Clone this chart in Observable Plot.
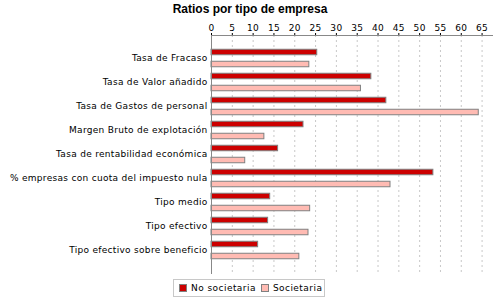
<!DOCTYPE html>
<html><head><meta charset="utf-8">
<script src="https://cdn.jsdelivr.net/npm/d3@7"></script>
<script src="https://cdn.jsdelivr.net/npm/@observablehq/plot@0.6"></script>
<style>
body{margin:0;background:#fff;width:500px;height:300px;position:relative;overflow:hidden;font-family:"DejaVu Sans",sans-serif}
#title{position:absolute;top:1px;left:0;width:500px;text-align:center;font:bold 12px "Liberation Sans",Arial,sans-serif;line-height:16px;color:#000}
#chart{position:absolute;top:0;left:0}
#legend{position:absolute;left:173px;top:279px;width:152px;height:18px;border:1px solid #c8c8c8;box-sizing:border-box;display:flex;align-items:center;font-size:9px;letter-spacing:0.45px;color:#000;white-space:nowrap}
.sw{display:inline-block;flex:none;width:8px;height:8px;border:1px solid #808080;box-sizing:border-box;margin:0 4px 0 5px}
</style></head>
<body>
<div id="title">Ratios por tipo de empresa</div>
<div id="chart"></div>
<div id="legend"></div>
<script>
const categories = ["Tasa de Fracaso","Tasa de Valor añadido","Tasa de Gastos de personal","Margen Bruto de explotación","Tasa de rentabilidad económica","% empresas con cuota del impuesto nula","Tipo medio","Tipo efectivo","Tipo efectivo sobre beneficio"];
const series = ["No societaria","Societaria"];
const noSocietaria = [25.4, 38.4, 42.0, 22.1, 16.0, 53.3, 14.1, 13.6, 11.2];
const societaria = [23.5, 35.9, 64.2, 12.7, 8.1, 43.0, 23.7, 23.3, 21.1];
const xTicks = [0,5,10,15,20,25,30,35,40,45,50,55,60,65];
const colors = ["#cc0000","#ffbbb3"];

const rowsNo = categories.map((c,i)=>({cat:c, serie:series[0], v:noSocietaria[i]}));
const rowsSo = categories.map((c,i)=>({cat:c, serie:series[1], v:societaria[i]}));

const chart = Plot.plot({
  width:500, height:275,
  marginTop:35, marginBottom:1, marginLeft:211, marginRight:8,
  style:{fontFamily:"DejaVu Sans", fontSize:"9px", background:"transparent", color:"#000", letterSpacing:"0.3px"},
  x:{domain:[0,67.5], axis:"top", ticks:xTicks, tickSize:3, tickPadding:2, label:null},
  y:{domain:categories, range:[43.5,264], padding:0, tickSize:0, tickPadding:4, label:null},
  marks:[
    Plot.gridX(xTicks.slice(1), {stroke:"#c8c8c8", strokeOpacity:1, strokeDasharray:"2,3"}),
    Plot.barX(rowsNo, {x:"v", y:"cat", fill:colors[0], stroke:"#808080", insetTop:3.25, insetBottom:15.25}),
    Plot.barX(rowsSo, {x:"v", y:"cat", fill:colors[1], stroke:"#808080", insetTop:15.25, insetBottom:3.25}),
    Plot.ruleX([0], {stroke:"#888"}),
    Plot.frame({anchor:"top", stroke:"#888"})
  ]
});
document.getElementById("chart").appendChild(chart);

const lg = document.getElementById("legend");
series.forEach((s,i)=>{
  const sw = document.createElement("span"); sw.className="sw"; sw.style.background=colors[i];
  lg.appendChild(sw);
  const t = document.createElement("span"); t.textContent=s; lg.appendChild(t);
});
</script>
</body></html>
